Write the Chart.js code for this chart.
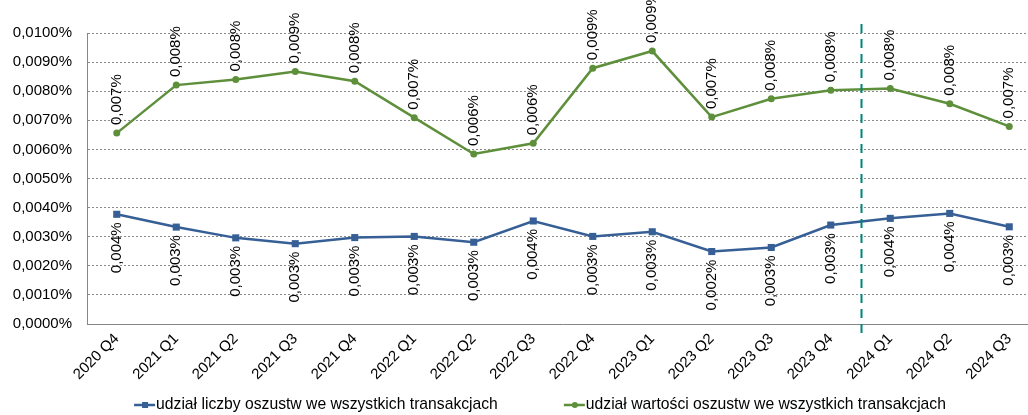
<!DOCTYPE html>
<html lang="pl">
<head>
<meta charset="UTF-8">
<title>Udział oszustw w transakcjach</title>
<script src="https://cdn.jsdelivr.net/npm/chart.js"></script>
<style>
    html, body { margin: 0; padding: 0; background: #fff; overflow: hidden; }
    #wrap { width: 1028px; height: 415px; overflow: hidden; }
</style>
</head>
<body>
<div id="wrap"><canvas id="fraudChart" width="1044" height="415"></canvas></div>
<script>
    const quarters = ['2020 Q4', '2021 Q1', '2021 Q2', '2021 Q3', '2021 Q4', '2022 Q1', '2022 Q2', '2022 Q3',
                      '2022 Q4', '2023 Q1', '2023 Q2', '2023 Q3', '2023 Q4', '2024 Q1', '2024 Q2', '2024 Q3'];
    // values in percent
    const countShare = [0.00377, 0.00333, 0.00296, 0.00276, 0.00297, 0.00301, 0.00281, 0.00354,
                        0.00301, 0.00317, 0.00249, 0.00263, 0.00340, 0.00363, 0.00380, 0.00334];
    const valueShare = [0.00656, 0.00821, 0.00840, 0.00868, 0.00834, 0.00709, 0.00584, 0.00621,
                        0.00879, 0.00938, 0.00711, 0.00774, 0.00803, 0.00809, 0.00757, 0.00679];
    const seriesNames = ['udział liczby oszustw we wszystkich transakcjach',
                         'udział wartości oszustw we wszystkich transakcjach'];
    const yMin = 0, yMax = 0.01, yStep = 0.001;
    const lastBeforeSplit = '2023 Q4';

    const FONT = '"Liberation Sans", Arial, sans-serif';
    const BLUE = '#365f96';
    const GREEN = '#5e8f3b';

    function pct(v, digits) {
        return v.toFixed(digits).replace('.', ',') + '%';
    }

    // rotated value labels, green above the point, blue below
    const pointLabels = {
        id: 'pointLabels',
        afterDatasetsDraw(chart) {
            const ctx = chart.ctx;
            ctx.save();
            ctx.font = '15px ' + FONT;
            ctx.fillStyle = '#000';
            ctx.textBaseline = 'middle';
            chart.data.datasets.forEach((ds, i) => {
                const above = ds.labelSide === 'above';
                chart.getDatasetMeta(i).data.forEach((pt, j) => {
                    ctx.save();
                    ctx.translate(pt.x, above ? pt.y - 8 : pt.y + 8);
                    ctx.rotate(-Math.PI / 2);
                    ctx.textAlign = above ? 'left' : 'right';
                    ctx.fillText(pct(ds.data[j], 3), 0, 0);
                    ctx.restore();
                });
            });
            ctx.restore();
        }
    };

    // dashed divider between 2023 Q4 and 2024 Q1
    const divider = {
        id: 'divider',
        afterDatasetsDraw(chart) {
            const x = chart.scales.x;
            const i = quarters.indexOf(lastBeforeSplit);
            const px = Math.round((x.getPixelForValue(i) + x.getPixelForValue(i + 1)) / 2) + 0.5;
            const ctx = chart.ctx;
            ctx.save();
            ctx.strokeStyle = '#00857a';
            ctx.lineWidth = 2;
            ctx.setLineDash([9, 6]);
            ctx.beginPath();
            ctx.moveTo(px, chart.chartArea.top - 9);
            ctx.lineTo(px, chart.chartArea.bottom + 14);
            ctx.stroke();
            ctx.restore();
        }
    };

    // Excel-style legend: line with marker, entries spaced wide apart
    const bottomLegend = {
        id: 'bottomLegend',
        afterDraw(chart) {
            const ctx = chart.ctx;
            const markW = 22, gap = 66, centerX = 540, y = 405;
            ctx.save();
            ctx.font = '15.7px ' + FONT;
            ctx.textBaseline = 'middle';
            ctx.textAlign = 'left';
            const items = chart.data.datasets.map(ds => ({ ds, w: markW + ctx.measureText(ds.label).width }));
            const total = items.reduce((s, it) => s + it.w, 0) + gap * (items.length - 1);
            let x = centerX - total / 2;
            items.forEach(({ ds, w }) => {
                ctx.strokeStyle = ds.borderColor;
                ctx.fillStyle = ds.borderColor;
                ctx.lineWidth = 2.5;
                ctx.beginPath();
                ctx.moveTo(x, y);
                ctx.lineTo(x + markW - 1, y);
                ctx.stroke();
                if (ds.pointStyle === 'rect') {
                    ctx.fillRect(x + 8, y - 3, 6, 6);
                } else {
                    ctx.beginPath();
                    ctx.arc(x + 11, y, 3, 0, Math.PI * 2);
                    ctx.fill();
                }
                ctx.fillStyle = '#000';
                ctx.fillText(ds.label, x + markW, y);
                x += w + gap;
            });
            ctx.restore();
        }
    };

    new Chart(document.getElementById('fraudChart'), {
        type: 'line',
        data: {
            labels: quarters,
            datasets: [{
                label: seriesNames[0],
                data: countShare,
                borderColor: BLUE,
                backgroundColor: BLUE,
                borderWidth: 2.5,
                pointStyle: 'rect',
                pointRadius: 5,
                pointBorderWidth: 0,
                tension: 0,
                labelSide: 'below'
            }, {
                label: seriesNames[1],
                data: valueShare,
                borderColor: GREEN,
                backgroundColor: GREEN,
                borderWidth: 2.5,
                pointStyle: 'circle',
                pointRadius: 3.5,
                pointBorderWidth: 0,
                tension: 0,
                labelSide: 'above'
            }]
        },
        options: {
            responsive: false,
            animation: false,
            devicePixelRatio: 1,
            layout: { padding: { top: 33, left: 0, right: 1, bottom: 31 } },
            scales: {
                x: {
                    offset: true,
                    grid: { display: false, drawTicks: false },
                    border: { color: '#868686', width: 1 },
                    ticks: {
                        color: '#000',
                        font: { size: 15, family: FONT },
                        minRotation: 45,
                        maxRotation: 45,
                        autoSkip: false,
                        padding: 6
                    },
                    afterFit(scale) { scale.height = 60; }
                },
                y: {
                    min: yMin,
                    max: yMax,
                    grid: { color: '#8a8a8a', lineWidth: 1, drawTicks: false },
                    border: { color: '#868686', width: 1, dash: [2, 2] },
                    ticks: {
                        stepSize: yStep,
                        color: '#000',
                        font: { size: 15, family: FONT },
                        padding: 15,
                        callback: v => pct(v, 4)
                    },
                    afterFit(scale) { scale.width = 87; }
                }
            },
            plugins: {
                legend: { display: false },
                tooltip: { enabled: false }
            }
        },
        plugins: [pointLabels, divider, bottomLegend]
    });
</script>
</body>
</html>
